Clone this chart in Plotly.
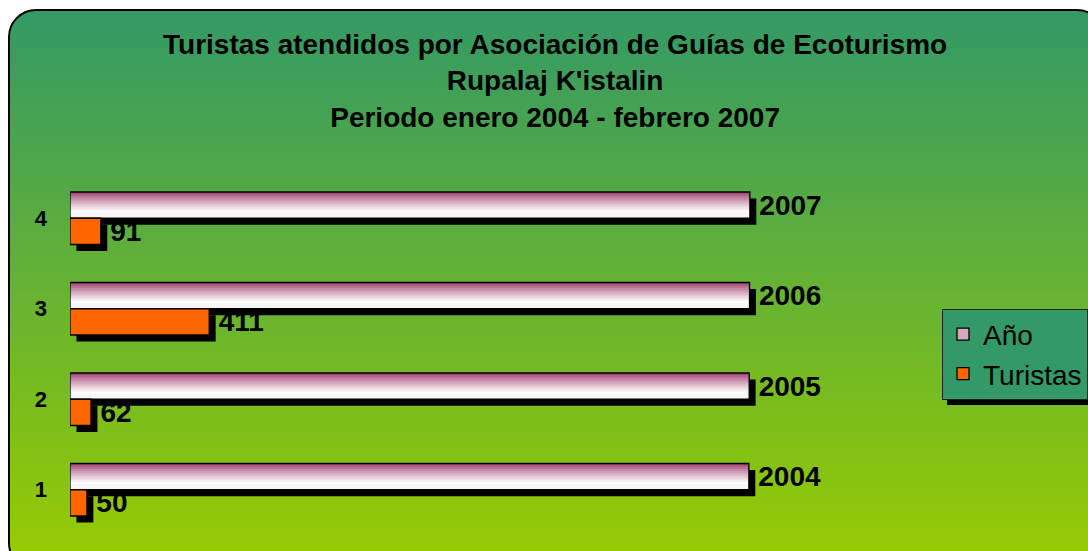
import base64
import plotly.graph_objects as go

# ---- data ----
categories = [1, 2, 3, 4]
anio = [2004, 2005, 2006, 2007]
turistas = [50, 62, 411, 91]
series_names = ["Año", "Turistas"]
title_lines = ["Turistas atendidos por Asociación de Guías de Ecoturismo",
               "Rupalaj K'istalin",
               "Periodo enero 2004 - febrero 2007"]

# ---- styling constants ----
FONT = "Liberation Sans, Arial, sans-serif"
W, H = 1088, 551
ML, MR, MT, MB = 70, 205, 173, 16
XMAX = 2400
BW = 0.29            # bar thickness (category units)
SDX = 19             # shadow shift (x data units, ~6.5px)
SDY = 0.072          # shadow shift (category units, ~6.5px)
ORANGE = "#FF6600"
PLUM = (153, 51, 102)

fig = go.Figure()

common = dict(orientation="h", hoverinfo="skip", showlegend=False)

# Año shadow
fig.add_trace(go.Bar(y=categories, x=anio, base=SDX, offset=-SDY, width=BW,
                     marker=dict(color="black", line=dict(width=0)), **common))

# Año gradient bands (top plum -> white)
NB = 14
for i in range(NB):
    t = (i + 0.5) / NB
    f = min(1.0, t / 0.75) ** 0.8
    r, g, b = [round(c + (255 - c) * f) for c in PLUM]
    if t > 0.75:
        r, g, b = 248, 246, 248
    fig.add_trace(go.Bar(y=categories, x=anio, offset=BW - (i + 1) * BW / NB,
                         width=BW / NB * 1.05,
                         marker=dict(color=f"rgb({r},{g},{b})", line=dict(width=0)),
                         **common))

# Año outline
fig.add_trace(go.Bar(y=categories, x=anio, offset=0, width=BW,
                     marker=dict(color="rgba(0,0,0,0)", line=dict(color="black", width=1.3)),
                     **common))

# Turistas shadow
fig.add_trace(go.Bar(y=categories, x=turistas, base=SDX, offset=-BW - SDY, width=BW,
                     marker=dict(color="black", line=dict(width=0)), **common))

# Turistas bars
fig.add_trace(go.Bar(y=categories, x=turistas, offset=-BW, width=BW,
                     marker=dict(color=ORANGE, line=dict(color="black", width=1.3)),
                     **common))

# labels
lab_font = dict(family=FONT, size=28, color="black", weight="bold")
fig.add_trace(go.Bar(y=categories, x=anio, base=SDX, offset=0, width=BW,
                     text=[str(v) for v in anio], textposition="outside",
                     constraintext="none", cliponaxis=False, textfont=lab_font,
                     marker=dict(color="rgba(0,0,0,0)", line=dict(width=0)), **common))
fig.add_trace(go.Bar(y=categories, x=turistas, base=SDX, offset=-BW, width=BW,
                     text=[str(v) for v in turistas], textposition="outside",
                     constraintext="none", cliponaxis=False, textfont=lab_font,
                     marker=dict(color="rgba(0,0,0,0)", line=dict(width=0)), **common))

# legend-only entries
fig.add_trace(go.Bar(y=[None], x=[None], orientation="h", name=series_names[0],
                     marker=dict(color="#d4a9be", line=dict(color="black", width=1.3)),
                     legendgroup="a", legendrank=1, hoverinfo="skip"))
fig.add_trace(go.Bar(y=[None], x=[None], orientation="h", name=series_names[1],
                     marker=dict(color=ORANGE, line=dict(color="black", width=1.3)),
                     legendgroup="t", legendrank=2, hoverinfo="skip"))

# background (rounded gradient panel)
svg = f'''<svg xmlns="http://www.w3.org/2000/svg" width="{W}" height="{H}" viewBox="0 0 {W} {H}">
<defs><linearGradient id="g" x1="0" y1="0" x2="0" y2="1">
<stop offset="0" stop-color="#339966"/><stop offset="1" stop-color="#99CC00"/></linearGradient></defs>
<rect x="9" y="10" width="1095" height="560" rx="27" ry="27" fill="url(#g)" stroke="#000" stroke-width="2"/>
</svg>'''
uri = "data:image/svg+xml;base64," + base64.b64encode(svg.encode()).decode()
pw, ph = W - ML - MR, H - MT - MB
fig.add_layout_image(source=uri, xref="paper", yref="paper",
                     x=-ML / pw, y=1 + MT / ph, sizex=W / pw, sizey=H / ph,
                     xanchor="left", yanchor="top", sizing="stretch", layer="below")

# legend shadow
lx0, ly0, lx1, ly1 = 947, 316, 1100, 405
fig.add_shape(type="rect", xref="paper", yref="paper",
              x0=(lx0 - ML) / pw, x1=(lx1 - ML) / pw,
              y0=1 - (ly1 - MT) / ph, y1=1 - (ly0 - MT) / ph,
              fillcolor="black", line=dict(width=0), layer="above")

# title as a multi-line annotation
fig.add_annotation(text="<br>".join(title_lines), xref="paper", yref="paper",
                   x=(555 - ML) / pw, xanchor="center",
                   y=1 + (MT - 27) / ph, yanchor="top", showarrow=False,
                   font=dict(family=FONT, size=28, color="black", weight="bold"))

fig.update_layout(
    width=W, height=H,
    margin=dict(l=ML, r=MR, t=MT, b=MB, autoexpand=False),
    paper_bgcolor="white", plot_bgcolor="rgba(0,0,0,0)",
    barmode="overlay",
    xaxis=dict(range=[0, XMAX], visible=False, fixedrange=True),
    yaxis=dict(range=[0.5, 4.5], tickvals=categories, ticktext=[str(c) for c in categories],
               showgrid=False, zeroline=False, showline=False, ticks="",
               ticklabelstandoff=22, fixedrange=True,
               tickfont=dict(family=FONT, size=22, color="black", weight="bold")),
    legend=dict(x=(942 - ML) / pw, xanchor="left", y=1 - (354 - MT) / ph, yanchor="middle",
                bgcolor="#339966", bordercolor="#222", borderwidth=1,
                font=dict(family=FONT, size=28, color="black"),
                traceorder="grouped", tracegroupgap=0),
    showlegend=True,
)

fig.write_html("out.html", config={"displayModeBar": False},
               post_script="document.body.style.margin='0px';document.body.style.overflow='hidden';")
